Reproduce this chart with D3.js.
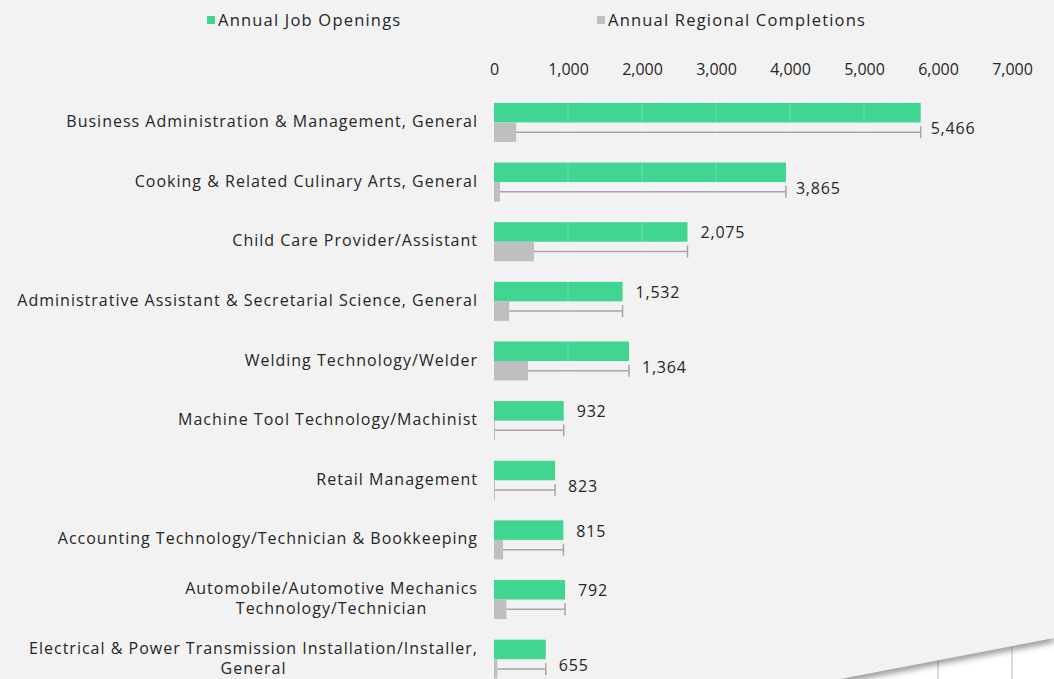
<!DOCTYPE html>
<html>
<head>
<meta charset="utf-8">
<script src="https://cdn.jsdelivr.net/npm/d3@7"></script>
<style>
  body { margin: 0; background: #f2f2f2; }
  svg { display: block; font-family: "Open Sans", sans-serif; }
</style>
</head>
<body>
<script>
const categories = [
  "Business Administration & Management, General",
  "Cooking & Related Culinary Arts, General",
  "Child Care Provider/Assistant",
  "Administrative Assistant & Secretarial Science, General",
  "Welding Technology/Welder",
  "Machine Tool Technology/Machinist",
  "Retail Management",
  "Accounting Technology/Technician & Bookkeeping",
  "Automobile/Automotive Mechanics\nTechnology/Technician",
  "Electrical & Power Transmission Installation/Installer,\nGeneral"
];
const openings    = [5766, 3945, 2615, 1737, 1824, 942, 825, 937, 960, 700];
const completions = [300, 80, 540, 205, 460, 10, 2, 122, 168, 45];
const gapLabels   = ["5,466", "3,865", "2,075", "1,532", "1,364", "932", "823", "815", "792", "655"];
const labelSide   = ["below", "below", "above", "above", "below", "above", "below", "above", "above", "below"];
const xTicks      = [0, 1000, 2000, 3000, 4000, 5000, 6000, 7000];
const seriesNames = ["Annual Job Openings", "Annual Regional Completions"];

const width = 1054, height = 679;
const green = "#40d590", grey = "#bfbfbf", errGrey = "#a6a6a6", textCol = "#262626";

const svg = d3.select("body").append("svg")
  .attr("width", width)
  .attr("height", height);

svg.append("rect").attr("width", width).attr("height", height).attr("fill", "#f2f2f2");

const x = d3.scaleLinear().domain([0, 7000]).range([494, 1012]);
const y = d3.scaleBand().domain(d3.range(categories.length))
  .range([92.6, 689]).paddingInner(0.346).paddingOuter(0.173);
const ySub = d3.scaleBand().domain(["open", "comp"]).range([0, y.bandwidth()]);

const fmt = d3.format(",");

// top axis labels, no line
const axis = d3.axisTop(x).tickValues(xTicks).tickFormat(fmt).tickSize(0).tickPadding(0);
const axisG = svg.append("g").attr("transform", "translate(0,75)").call(axis);
axisG.select(".domain").remove();
axisG.selectAll("text")
  .attr("font-family", "Open Sans, sans-serif")
  .attr("font-size", 16)
  .attr("fill", textCol);

const rows = svg.append("g").selectAll("g")
  .data(categories.map((c, i) => ({ c, i })))
  .join("g")
  .attr("transform", d => `translate(0,${y(d.i)})`);

rows.append("rect")
  .attr("x", x(0))
  .attr("y", ySub("open"))
  .attr("width", d => x(openings[d.i]) - x(0))
  .attr("height", ySub.bandwidth())
  .attr("fill", green);

rows.append("rect")
  .attr("x", x(0))
  .attr("y", ySub("comp"))
  .attr("width", d => Math.max(1, x(completions[d.i]) - x(0)))
  .attr("height", ySub.bandwidth())
  .attr("fill", grey);

// faint gridlines showing through bars
svg.append("g").selectAll("line")
  .data(xTicks.slice(1))
  .join("line")
  .attr("x1", d => x(d)).attr("x2", d => x(d))
  .attr("y1", 95).attr("y2", height)
  .attr("stroke", "#ffffff")
  .attr("stroke-opacity", 0.22)
  .attr("stroke-width", 1);

// error bars: completions + gap
const mid = y.bandwidth() / 2;
const cy = ySub("comp") + ySub.bandwidth() / 2;
rows.append("line")
  .attr("x1", d => x(completions[d.i]))
  .attr("x2", d => x(openings[d.i]))
  .attr("y1", cy).attr("y2", cy)
  .attr("stroke", errGrey).attr("stroke-width", 1.5);
rows.append("line")
  .attr("x1", d => x(openings[d.i])).attr("x2", d => x(openings[d.i]))
  .attr("y1", cy - 6).attr("y2", cy + 6)
  .attr("stroke", errGrey).attr("stroke-width", 1.5);

// value labels
rows.append("text")
  .attr("x", d => x(openings[d.i]) + (d.i < 2 ? 10 : 13))
  .attr("y", d => labelSide[d.i] === "above" ? mid - 9 : mid + 6)
  .attr("dy", "0.35em")
  .attr("font-size", 16)
  .attr("letter-spacing", 0.8)
  .attr("fill", textCol)
  .text(d => gapLabels[d.i]);

// category labels (wrapped lines centred within a right-aligned block)
rows.each(function(d) {
  const g = d3.select(this);
  const lines = d.c.split("\n");
  const t = g.append("text")
    .attr("font-size", 16)
    .attr("letter-spacing", 1)
    .attr("fill", textCol)
    .attr("text-anchor", "middle");
  const spans = lines.map((l, k) => t.append("tspan")
    .attr("y", mid - 1 + (k - (lines.length - 1) / 2) * 20)
    .attr("dy", "0.35em")
    .text(l));
  const w = d3.max(spans, s => s.node().getComputedTextLength());
  spans.forEach(s => s.attr("x", 478 - w / 2));
});

// legend
const legend = svg.append("g");
const legendX = [207, 597];
seriesNames.forEach((name, k) => {
  legend.append("rect")
    .attr("x", legendX[k]).attr("y", 16)
    .attr("width", 8).attr("height", 8)
    .attr("fill", k === 0 ? green : grey);
  legend.append("text")
    .attr("x", legendX[k] + 11).attr("y", 20)
    .attr("dy", "0.35em")
    .attr("font-size", 16.5)
    .attr("letter-spacing", 1.2)
    .attr("fill", textCol)
    .text(name);
});

// page-curl corner at bottom right
const defs = svg.append("defs");
defs.append("clipPath").attr("id", "corner")
  .append("polygon").attr("points", "840,679 1054,638 1054,679");
defs.append("filter").attr("id", "blur").attr("x", "-10%").attr("y", "-50%")
  .attr("width", "120%").attr("height", "200%")
  .append("feGaussianBlur").attr("stdDeviation", 3.5);
const corner = svg.append("g").attr("clip-path", "url(#corner)");
corner.append("rect").attr("x", 800).attr("y", 600).attr("width", 260).attr("height", 80).attr("fill", "#ffffff");
corner.selectAll("line.grid")
  .data([6000, 7000])
  .join("line")
  .attr("x1", d => x(d)).attr("x2", d => x(d))
  .attr("y1", 600).attr("y2", 679)
  .attr("stroke", "#dcdcdc").attr("stroke-width", 2);
corner.append("line")
  .attr("x1", 840).attr("y1", 679).attr("x2", 1054).attr("y2", 638)
  .attr("stroke", "#6e6e6e").attr("stroke-width", 6)
  .attr("filter", "url(#blur)");
</script>
</body>
</html>
